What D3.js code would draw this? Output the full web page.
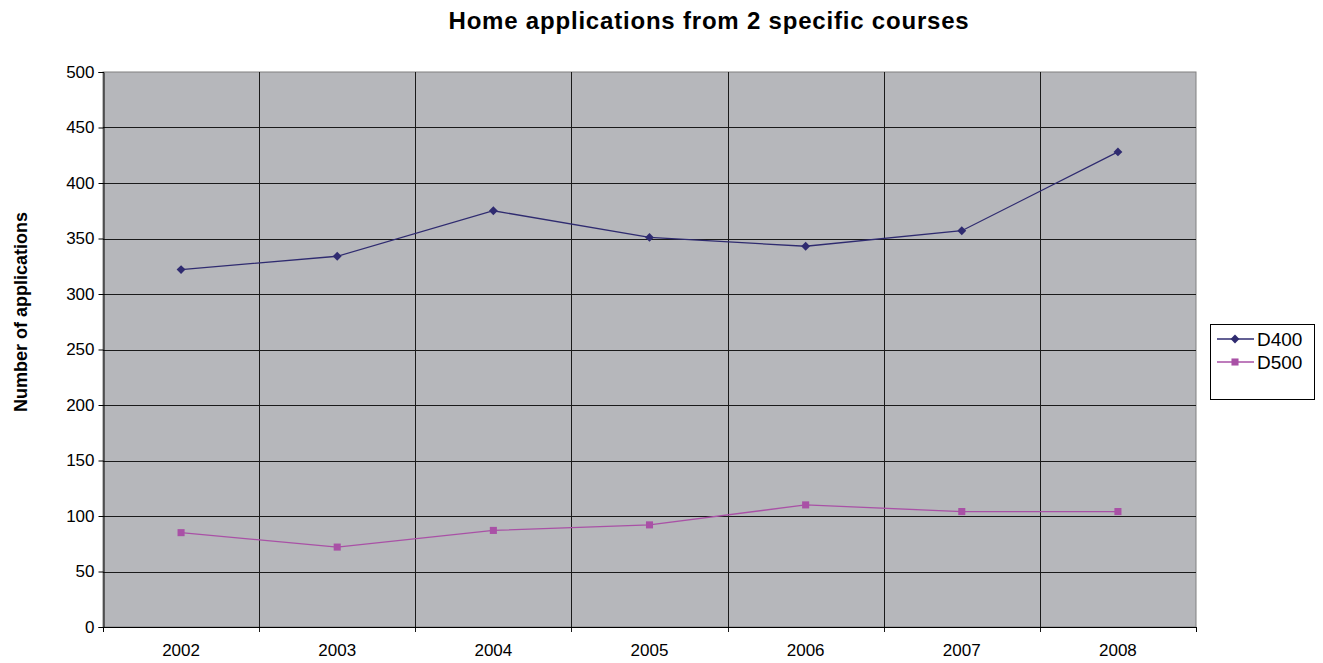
<!DOCTYPE html>
<html>
<head>
<meta charset="utf-8">
<script src="https://cdn.jsdelivr.net/npm/d3@7"></script>
<style>
  body { margin: 0; background: #fff; font-family: Arial, "Liberation Sans", sans-serif; }
</style>
</head>
<body>
<div id="chart"></div>
<script>
// Width and height
var chart_width  = 1323;
var chart_height = 663;

// Data
var years  = ['2002', '2003', '2004', '2005', '2006', '2007', '2008'];
var d400   = [322, 334, 375, 351, 343, 357, 428];
var d500   = [85, 72, 87, 92, 110, 104, 104];
var yTicks = [0, 50, 100, 150, 200, 250, 300, 350, 400, 450, 500];

var series = [
  { name: 'D400', values: d400, color: '#2f2b70', shape: 'diamond' },
  { name: 'D500', values: d500, color: '#a951a6', shape: 'square' }
];

var plot = { left: 103, top: 72, right: 1196, bottom: 627 };

var svg = d3.select('#chart')
  .append('svg')
  .attr('width', chart_width)
  .attr('height', chart_height);

var x = d3.scaleBand()
  .domain(years)
  .range([plot.left, plot.right]);

var y = d3.scaleLinear()
  .domain([0, 500])
  .range([plot.bottom, plot.top]);

// plot background
svg.append('rect')
  .attr('x', plot.left)
  .attr('y', plot.top)
  .attr('width', plot.right - plot.left)
  .attr('height', plot.bottom - plot.top)
  .attr('fill', '#b6b7bb')
  .attr('stroke', '#808080')
  .attr('stroke-width', 1);

// horizontal gridlines
svg.append('g')
  .selectAll('line')
  .data(yTicks.slice(1, -1))
  .enter()
  .append('line')
  .attr('x1', plot.left)
  .attr('x2', plot.right)
  .attr('y1', function(d){ return Math.round(y(d)) + 0.5; })
  .attr('y2', function(d){ return Math.round(y(d)) + 0.5; })
  .attr('stroke', '#1a1a1a')
  .attr('stroke-width', 1);

// vertical gridlines at category boundaries
svg.append('g')
  .selectAll('line')
  .data(years.slice(1))
  .enter()
  .append('line')
  .attr('x1', function(d){ return Math.round(x(d)) + 0.5; })
  .attr('x2', function(d){ return Math.round(x(d)) + 0.5; })
  .attr('y1', plot.top)
  .attr('y2', plot.bottom + 5)
  .attr('stroke', '#1a1a1a')
  .attr('stroke-width', 1);

// y axis
var yAxis = d3.axisLeft(y)
  .tickValues(yTicks)
  .tickSize(5)
  .tickPadding(4);

var gy = svg.append('g')
  .attr('transform', 'translate(' + (plot.left + 0.5) + ',0)')
  .call(yAxis);
gy.select('.domain').attr('stroke', '#000');
gy.selectAll('.tick line').attr('stroke', '#000');
gy.selectAll('text')
  .style('font-family', 'Arial, "Liberation Sans", sans-serif')
  .style('font-size', '17px')
  .attr('fill', '#000');

// x axis baseline
svg.append('line')
  .attr('x1', plot.left)
  .attr('x2', plot.right)
  .attr('y1', plot.bottom + 0.5)
  .attr('y2', plot.bottom + 0.5)
  .attr('stroke', '#000');

// x end tick marks
svg.append('g')
  .selectAll('line')
  .data([plot.left, plot.right])
  .enter()
  .append('line')
  .attr('x1', function(d){ return d + 0.5; })
  .attr('x2', function(d){ return d + 0.5; })
  .attr('y1', plot.bottom)
  .attr('y2', plot.bottom + 5)
  .attr('stroke', '#000');

// x labels
svg.append('g')
  .selectAll('text')
  .data(years)
  .enter()
  .append('text')
  .attr('x', function(d){ return x(d) + x.bandwidth() / 2; })
  .attr('y', 656)
  .attr('text-anchor', 'middle')
  .style('font-size', '17px')
  .text(function(d){ return d; });

// lines
var line = d3.line()
  .x(function(d, i){ return x(years[i]) + x.bandwidth() / 2; })
  .y(function(d){ return y(d); });

series.forEach(function(s){
  svg.append('path')
    .datum(s.values)
    .attr('d', line)
    .attr('fill', 'none')
    .attr('stroke', s.color)
    .attr('stroke-width', 1.3);

  var sym = s.shape === 'diamond'
    ? d3.symbol().type(d3.symbolDiamond2).size(50)
    : d3.symbol().type(d3.symbolSquare).size(50);

  svg.append('g')
    .selectAll('path')
    .data(s.values)
    .enter()
    .append('path')
    .attr('d', sym)
    .attr('transform', function(d, i){
      return 'translate(' + (x(years[i]) + x.bandwidth() / 2) + ',' + y(d) + ')';
    })
    .attr('fill', s.color);
});

// title
svg.append('text')
  .attr('x', 709)
  .attr('y', 29)
  .attr('text-anchor', 'middle')
  .style('font-size', '24px')
  .style('letter-spacing', '0.8px')
  .style('font-weight', 'bold')
  .text('Home applications from 2 specific courses');

// y axis title
svg.append('text')
  .attr('transform', 'translate(27,312) rotate(-90)')
  .attr('text-anchor', 'middle')
  .style('font-size', '18px')
  .style('font-weight', 'bold')
  .text('Number of applications');

// legend
var legend = svg.append('g');
legend.append('rect')
  .attr('x', 1210.5)
  .attr('y', 324.5)
  .attr('width', 104)
  .attr('height', 75)
  .attr('fill', '#fff')
  .attr('stroke', '#000');

series.forEach(function(s, i){
  var ly = 339 + i * 23;
  legend.append('line')
    .attr('x1', 1217)
    .attr('x2', 1254)
    .attr('y1', ly)
    .attr('y2', ly)
    .attr('stroke', s.color)
    .attr('stroke-width', 1.3);
  var sym = s.shape === 'diamond'
    ? d3.symbol().type(d3.symbolDiamond2).size(50)
    : d3.symbol().type(d3.symbolSquare).size(50);
  legend.append('path')
    .attr('d', sym)
    .attr('transform', 'translate(1235,' + ly + ')')
    .attr('fill', s.color);
  legend.append('text')
    .attr('x', 1257)
    .attr('y', ly + 7)
    .style('font-size', '19px')
    .text(s.name);
});
</script>
</body>
</html>
